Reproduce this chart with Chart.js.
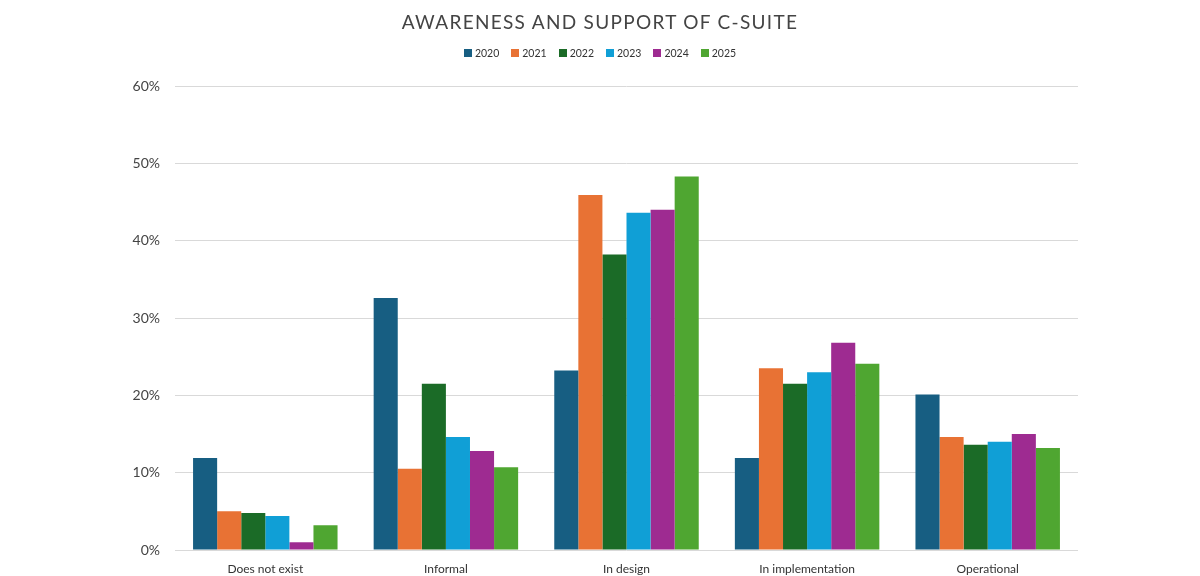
<!DOCTYPE html>
<html>
<head>
<meta charset="utf-8">
<script src="https://cdn.jsdelivr.net/npm/chart.js@4"></script>
<style>
  body { margin: 0; background: #fff; }
  #wrap { position: relative; width: 1200px; height: 576px; }
  #titulo {
    position: absolute; top: 10px; left: 0; width: 1200px; margin: 0;
    text-align: center; font: 400 19px Lato, sans-serif; letter-spacing: 1.3px;
    color: #444;
  }
  #legenda {
    position: absolute; top: 47px; left: 0; width: 1200px;
    display: flex; justify-content: center; gap: 12px;
    font: 10.5px Lato, sans-serif; color: #333;
  }
  #legenda span { display: inline-flex; align-items: center; gap: 3px; }
  #legenda i { display: inline-block; width: 8px; height: 8px; }
  canvas { position: absolute; top: 0; left: 0; }
</style>
</head>
<body>
<div id="wrap">
  <canvas id="grafico" width="1200" height="576"></canvas>
  <h1 id="titulo">AWARENESS AND SUPPORT OF C-SUITE</h1>
  <div id="legenda"></div>
</div>
<script>
// categorias e valores
const categorias = ["Does not exist", "Informal", "In design", "In implementation", "Operational"];
const anos = ["2020", "2021", "2022", "2023", "2024", "2025"];
const cores = ["#175e82", "#e87234", "#1b6b27", "#109fd6", "#9e2b91", "#4fa631"];

const v2020 = [11.9, 32.6, 23.2, 11.9, 20.1];
const v2021 = [5.0, 10.5, 45.9, 23.5, 14.6];
const v2022 = [4.8, 21.5, 38.2, 21.5, 13.6];
const v2023 = [4.4, 14.6, 43.6, 23.0, 14.0];
const v2024 = [1.0, 12.8, 44.0, 26.8, 15.0];
const v2025 = [3.2, 10.7, 48.3, 24.1, 13.2];

const valores = [v2020, v2021, v2022, v2023, v2024, v2025];
const ticksY = [0, 10, 20, 30, 40, 50, 60];

const datasets = anos.map((ano, i) => ({
  label: ano,
  data: valores[i],
  backgroundColor: cores[i],
  borderWidth: 0,
  categoryPercentage: 0.8,
  barPercentage: 1.0,
}));

// legenda em HTML, centrada na página como no original
document.getElementById("legenda").innerHTML = anos
  .map((ano, i) => `<span><i style="background:${cores[i]}"></i>${ano}</span>`)
  .join("");

new Chart(document.getElementById("grafico"), {
  type: "bar",
  data: { labels: categorias, datasets },
  options: {
    responsive: false,
    animation: false,
    layout: { padding: { top: 86, right: 122, left: 0, bottom: 0 } },
    plugins: {
      legend: { display: false },
      tooltip: { enabled: false }
    },
    scales: {
      x: {
        grid: { display: false, drawTicks: false },
        border: { display: false },
        ticks: { color: "#333", font: { family: "Lato", size: 12 }, padding: 12 },
        afterFit: s => { s.height = 26; }
      },
      y: {
        min: 0,
        max: 60,
        afterBuildTicks: s => { s.ticks = ticksY.map(v => ({ value: v })); },
        grid: { color: "#d9d9d9", drawTicks: false },
        border: { display: false },
        ticks: {
          color: "#444",
          font: { family: "Lato", size: 14 },
          padding: 15,
          callback: v => v + "%"
        },
        afterFit: s => { s.width = 175; }
      }
    }
  }
});
</script>
</body>
</html>
